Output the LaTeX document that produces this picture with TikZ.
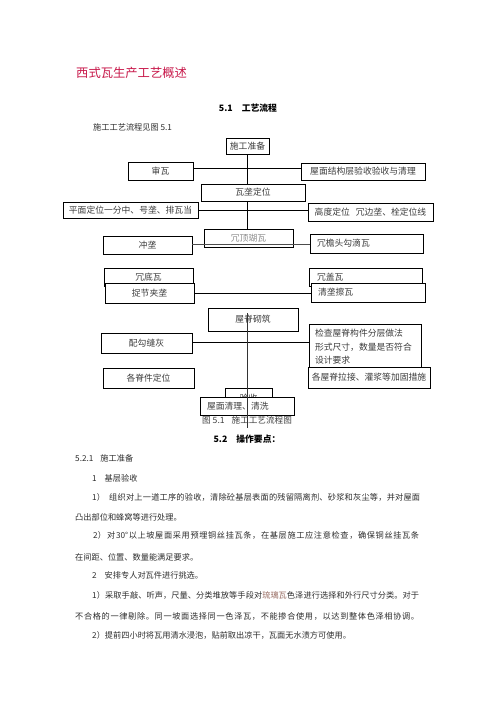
\documentclass[tikz,border=0pt]{standalone}
\usepackage{fontspec}
\setmainfont{Noto Sans CJK SC}
\definecolor{titlered}{RGB}{200,24,74}
\definecolor{bodytext}{RGB}{45,45,45}
\definecolor{boxtext}{RGB}{60,60,60}
\definecolor{liuli}{RGB}{150,105,95}
\def\spreadaux#1{\ifx\relax#1\else\hskip 0pt plus 1fil\relax#1\expandafter\spreadaux\fi}
\def\spreadfirst#1{#1\spreadaux}
\newcommand\spreadline[2]{\hbox to #1{\spreadfirst#2\relax}}
\tikzset{
  bx/.style={draw=black, line width=0.7pt, fill=white, text=boxtext, inner sep=0pt,
             font=\fontsize{8.8}{13.5}\selectfont},
  cbox/.style 2 args={bx, minimum width=#1, minimum height=#2, align=center},
  lbox/.style n args={3}{bx, minimum height=#2, text width=#1, inner xsep=#3, align=left},
  conn/.style={draw=black, line width=0.7pt},
  body/.style={inner sep=0pt, anchor=west, text=bodytext, font=\fontsize{8.2}{10}\selectfont},
  head/.style={inner sep=0pt, text=black, font=\bfseries\fontsize{8.8}{10}\selectfont},
}
\begin{document}
\begin{tikzpicture}[x=1pt, y=-1pt]
\useasboundingbox[fill=white] (0,0) rectangle (496,702);

% title and headings
\node[inner sep=0pt, anchor=west, text=titlered, font=\fontsize{12.3}{14}\selectfont] (title) at (76,73) {西式瓦生产工艺概述};
\node[head] (h51) at (248,108) {5.1\hspace{9pt}工艺流程};
\node[body] (intro) at (93,127) {施工工艺流程见图 5.1};

% flow chart boxes
\node[cbox={43pt}{16pt}] (shigong) at (247.5,146) {施工准备};
\node[cbox={65pt}{18pt}] (shenwa) at (160.5,171) {审瓦};
\node[cbox={124pt}{17pt}] (wumian) at (363,171.5) {屋面结构层验收验收与清理};
\node[cbox={104pt}{17pt}] (walong) at (253,192.5) {瓦垄定位};
\node[cbox={135pt}{16pt}] (pingmian) at (130.5,210) {平面定位一分中、号垄、排瓦当};
\node[cbox={125pt}{18pt}] (gaodu) at (370.5,212) {高度定位\hspace{6pt}冗边垄、栓定位线};
\node[cbox={89pt}{18pt}, text=black!45] (dingding) at (248.5,238) {冗顶瑚瓦};
\node[cbox={89pt}{18pt}] (chonglong) at (147.5,245) {冲垄};
\node[lbox={99pt}{19pt}{7pt}] (yantou) at (366.5,243.5) {冗檐头勾滴瓦};
\node[cbox={89pt}{18pt}] (didi) at (148.5,277) {冗底瓦};
\node[cbox={89pt}{20pt}] (zhuojie) at (149.5,293) {捉节夹垄};
\node[lbox={97pt}{18pt}{8pt}] (gaiwa) at (365.5,277) {冗盖瓦};
\node[lbox={100pt}{19pt}{7pt}] (qinglong) at (368,292.5) {清垄擦瓦};
\node[cbox={90pt}{23pt}] (jiji) at (253,319.5) {屋脊砌筑};
\node[lbox={100pt}{46pt}{6pt}] (jiancha) at (365,347) {检查屋脊构件分层做法\\形式尺寸，数量是否符合\\设计要求};
\node[cbox={91pt}{20pt}] (peigou) at (146.5,343) {配勾缝灰};
\node[cbox={91pt}{20pt}] (gejijian) at (148.5,378) {各脊件定位};
\node[cbox={122pt}{21pt}] (gewuji) at (369,377.5) {各屋脊拉接、灌浆等加固措施};
\node[cbox={47pt}{20pt}] (yanshou) at (248.5,398) {验收};
\node[lbox={80pt}{18pt}{7pt}] (qingli) at (247,406) {屋面清理、清洗};

% connectors
\draw[conn] (shigong.south) -- (shigong.south |- walong.north);
\draw[conn] (shigong.south |- walong.south) -- (shigong.south |- dingding.north);
\draw[conn] ([yshift=3pt]shenwa.east) -- ([yshift=3pt]shenwa.east -| wumian.west);
\draw[conn] (pingmian.east) -- (pingmian.east -| gaodu.west);
\draw[conn, draw=black!70] ([yshift=1pt]chonglong.east) -- ([yshift=1pt]chonglong.east -| yantou.west);
\draw[conn] (zhuojie.east) -- (zhuojie.east -| qinglong.west);
\draw[conn] ([yshift=1pt]peigou.east) -- ([yshift=1pt]peigou.east -| jiancha.west);
\coordinate (trunktop) at (247,313);
\coordinate (trunkbot) at (247,428);

\node[inner sep=0pt, anchor=west, text=black!75, font=\fontsize{8.6}{10}\selectfont] (caption) at (202,420) {图 5.1\hspace{7pt}施工工艺流程图};
\draw[conn, draw=black!80] (trunktop) -- (trunkbot);

% body text
\node[head] (h52) at (247,439) {5.2\hspace{9pt}操作要点：};
\node[body] (s521) at (75,458) {5.2.1\hspace{7pt}施工准备};
\node[body] (s1) at (92,478) {1\hspace{8pt}基层验收};
\node[body] (l1a) at (92,497) {1）};
\node[body] (l1b) at (109,497) {\spreadline{311pt}{组织对上一道工序的验收，清除砼基层表面的残留隔离剂、砂浆和灰尘等，并对屋面}};
\node[body] (l2) at (75,517) {凸出部位和蜂窝等进行处理。};
\node[body] (l3a) at (93,535) {2）};
\node[body] (l3b) at (107,535) {\spreadline{312pt}{对{30°}以上坡屋面采用预埋铜丝挂瓦条，在基层施工应注意检查，确保铜丝挂瓦条}};
\node[body] (l4) at (75,557) {在间距、位置、数量能满足要求。};
\node[body] (s2) at (92,575) {2\hspace{8pt}安排专人对瓦件进行挑选。};
\node[body] (l5a) at (92,595) {1）};
\node[body] (l5b) at (105,595) {\spreadline{314pt}{采取手敲、听声，尺量、分类堆放等手段对{{\color{liuli}琉璃瓦}}色泽进行选择和外行尺寸分类。对于}};
\node[body] (l6) at (75,616) {\spreadline{344pt}{不合格的一律剔除。同一坡面选择同一色泽瓦，不能掺合使用，以达到整体色泽相协调。}};
\node[body] (l7) at (92,635) {2）提前四小时将瓦用清水浸泡，贴前取出凉干，瓦面无水渍方可使用。};
\end{tikzpicture}
\end{document}
